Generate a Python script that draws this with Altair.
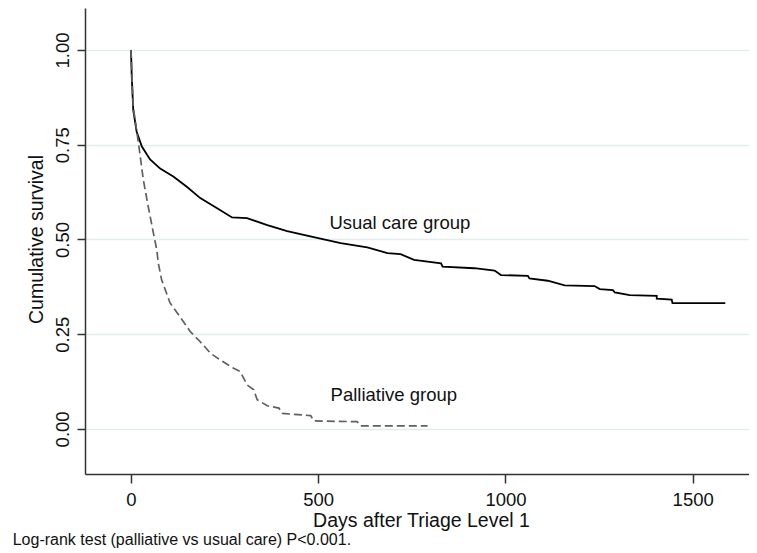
import altair as alt
import pandas as pd

# ---- data ----
usual_days = [0, 2, 6, 15, 29, 51, 78, 113, 149, 185, 230, 270, 310, 364, 417, 488,
              560, 631, 685, 720, 756, 828, 832, 917, 971, 988, 1060, 1064, 1113,
              1158, 1238, 1252, 1287, 1292, 1332, 1404, 1404, 1444, 1446, 1587]
usual_surv = [1.0, 0.93, 0.842, 0.785, 0.745, 0.711, 0.687, 0.666, 0.639, 0.609, 0.582,
              0.558, 0.556, 0.538, 0.522, 0.506, 0.490, 0.479, 0.464, 0.461, 0.446,
              0.437, 0.428, 0.424, 0.418, 0.406, 0.404, 0.397, 0.391, 0.379, 0.377,
              0.369, 0.366, 0.360, 0.353, 0.351, 0.344, 0.341, 0.332, 0.332]

pall_days = [0, 3, 6, 20, 33, 46, 60, 69, 73, 82, 104, 131, 158, 185, 212, 238, 274,
             292, 310, 328, 337, 364, 395, 404, 480, 488, 604, 613, 792]
pall_surv = [1.0, 0.92, 0.85, 0.754, 0.657, 0.587, 0.516, 0.472, 0.437, 0.393, 0.333,
             0.296, 0.257, 0.230, 0.200, 0.182, 0.160, 0.151, 0.116, 0.103, 0.077,
             0.061, 0.055, 0.041, 0.035, 0.021, 0.019, 0.008, 0.008]

label_text = ["Usual care group", "Palliative group"]
label_days = [718, 702]
label_surv = [0.527, 0.073]

x_ticks = [0, 500, 1000, 1500]
y_ticks = [0.0, 0.25, 0.5, 0.75, 1.0]
x_title = "Days after Triage Level 1"
y_title = "Cumulative survival"
footnote = "Log-rank test (palliative vs usual care) P<0.001."

usual_df = pd.DataFrame({"day": usual_days, "surv": usual_surv, "i": range(len(usual_days))})
pall_df = pd.DataFrame({"day": pall_days, "surv": pall_surv, "i": range(len(pall_days))})
label_df = pd.DataFrame({"day": label_days, "surv": label_surv, "text": label_text})
note_df = pd.DataFrame({"text": [footnote]})

W, H = 664, 466
FONT = "Liberation Sans"

xscale = alt.Scale(domain=[-122.8, -122.8 + W / 0.37447], nice=False, zero=False)
yscale = alt.Scale(domain=[-0.119, 1.1107], nice=False, zero=False)

xaxis = alt.Axis(values=x_ticks, format="d", title=x_title, grid=False, tickSize=9,
                 labelPadding=22, labelBaseline="alphabetic", labelFontSize=18.5,
                 titleX=336, titleY=52, titleBaseline="alphabetic", titleAlign="center",
                 titleFontSize=19.5)
yaxis = alt.Axis(values=y_ticks, format=".2f", title=y_title, grid=True, tickSize=8,
                 labelAngle=270, labelAlign="center", labelBaseline="alphabetic",
                 labelPadding=8.7, labelFontSize=18.5,
                 titleX=-43, titleY=231, titleAngle=270, titleBaseline="alphabetic",
                 titleAlign="center", titleFontSize=19.5)

usual = alt.Chart(usual_df).mark_line(color="#000000", strokeWidth=1.8).encode(
    x=alt.X("day:Q", scale=xscale, axis=xaxis),
    y=alt.Y("surv:Q", scale=yscale, axis=yaxis),
    order="i:Q",
)

pall = alt.Chart(pall_df).mark_line(color="#606060", strokeWidth=1.7,
                                    strokeDash=[8, 4]).encode(
    x=alt.X("day:Q", scale=xscale, axis=xaxis),
    y=alt.Y("surv:Q", scale=yscale, axis=yaxis),
    order="i:Q",
)

labels = alt.Chart(label_df).mark_text(font=FONT, fontSize=18.5, color="#111111",
                                       align="center", baseline="alphabetic").encode(
    x=alt.X("day:Q", scale=xscale),
    y=alt.Y("surv:Q", scale=yscale),
    text="text:N",
)

note = alt.Chart(note_df).mark_text(font=FONT, fontSize=16, color="#111111",
                                    align="left", baseline="alphabetic").encode(
    x=alt.value(-72.3),
    y=alt.value(537),
    text="text:N",
)

chart = alt.layer(usual, pall, labels, note).properties(
    width=W, height=H,
    autosize=alt.AutoSizeParams(type="none"),
    padding={"left": 77, "top": 0, "right": 0, "bottom": 77},
).configure_view(stroke=None).configure_axis(
    domainColor="#333333", domainWidth=1.5, tickColor="#333333", tickWidth=1.5,
    gridColor="#e2eded", gridWidth=1.5,
    labelFont=FONT, labelColor="#111111", titleFont=FONT, titleColor="#111111",
    titleFontWeight="normal",
)

chart.save("out.html", embed_options={"renderer": "svg", "actions": False})
